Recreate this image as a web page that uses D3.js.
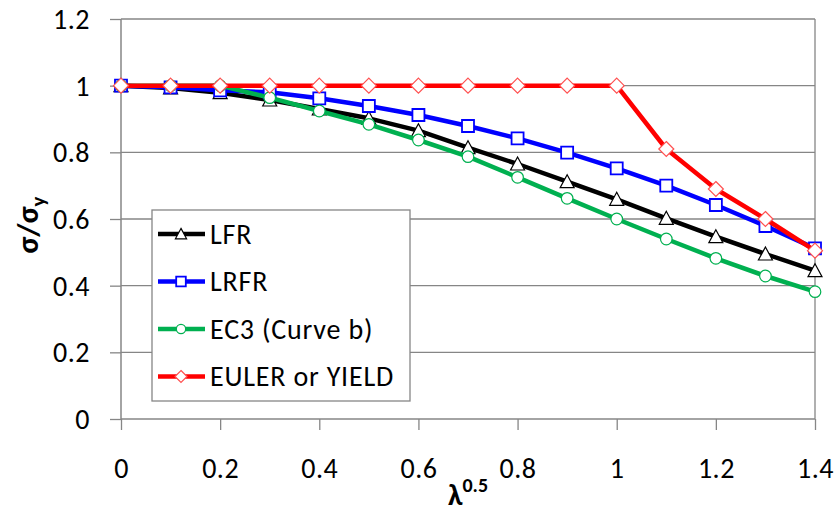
<!DOCTYPE html>
<html>
<head>
<meta charset="utf-8">
<script src="https://cdn.jsdelivr.net/npm/d3@7"></script>
<style>
  body { margin: 0; background: #fff; }
  text { font-family: Calibri, Carlito, "Open Sans", "Liberation Sans", sans-serif; }
</style>
</head>
<body>
<div id="chart"></div>
<script>
var xValues = [0, 0.1, 0.2, 0.3, 0.4, 0.5, 0.6, 0.7, 0.8, 0.9, 1.0, 1.1, 1.2, 1.3, 1.4];
var lfr   = [1, 0.993, 0.979, 0.957, 0.93, 0.902, 0.865, 0.814, 0.765, 0.712, 0.659, 0.602, 0.547, 0.495, 0.445];
var lrfr  = [1, 0.995, 0.986, 0.98, 0.962, 0.939, 0.912, 0.879, 0.842, 0.799, 0.752, 0.70, 0.642, 0.579, 0.512];
var ec3   = [1, 1, 1, 0.964, 0.924, 0.884, 0.837, 0.787, 0.725, 0.662, 0.60, 0.54, 0.482, 0.429, 0.382];
var euler = [1, 1, 1, 1, 1, 1, 1, 1, 1, 1, 1, 0.81, 0.69, 0.60, 0.505];
var seriesNames = ["LFR", "LRFR", "EC3 (Curve b)", "EULER or YIELD"];
var xTicks = [0, 0.2, 0.4, 0.6, 0.8, 1, 1.2, 1.4];
var yTicks = [0, 0.2, 0.4, 0.6, 0.8, 1, 1.2];

var series = [
  { name: seriesNames[0], values: lfr,   color: "#000000", marker: "triangle", mstroke: "#000000" },
  { name: seriesNames[1], values: lrfr,  color: "#0000ff", marker: "square",   mstroke: "#0000ff" },
  { name: seriesNames[2], values: ec3,   color: "#00b050", marker: "circle",   mstroke: "#00b050" },
  { name: seriesNames[3], values: euler, color: "#ff0000", marker: "diamond",  mstroke: "#ff5050" }
];

var W = 836, H = 514;
var svg = d3.select("#chart").append("svg").attr("width", W).attr("height", H);

var x = d3.scaleLinear().domain([0, 1.4]).range([121, 815]);
var y = d3.scaleLinear().domain([0, 1.2]).range([419, 19]);
var grid = "#868686";
var fmt = function (d) { return String(+d.toFixed(1)); };

// gridlines
svg.append("g").selectAll("line").data(yTicks.filter(function (d) { return d > 0; }))
  .enter().append("line")
  .attr("x1", x(0)).attr("x2", x(1.4))
  .attr("y1", function (d) { return y(d); }).attr("y2", function (d) { return y(d); })
  .attr("stroke", grid).attr("stroke-width", 1.3);

// right border
svg.append("line").attr("x1", x(1.4)).attr("x2", x(1.4)).attr("y1", y(1.2)).attr("y2", y(0))
  .attr("stroke", grid).attr("stroke-width", 1.3);

// axes
var yAxis = d3.axisLeft(y).tickValues(yTicks).tickSize(11).tickPadding(20).tickFormat(fmt);
var gy = svg.append("g").attr("transform", "translate(" + x(0) + ",0)").call(yAxis);
var xAxis = d3.axisBottom(x).tickValues(xTicks).tickSize(11).tickFormat(fmt);
var gx = svg.append("g").attr("transform", "translate(0," + y(0) + ")").call(xAxis);
[gx, gy].forEach(function (g) {
  g.select(".domain").attr("stroke", grid).attr("stroke-width", 1.5);
  g.selectAll(".tick line").attr("stroke", grid).attr("stroke-width", 1.3);
  g.selectAll(".tick text").attr("font-size", 28).attr("fill", "#000")
    .attr("letter-spacing", 0.5)
    .style("font-family", "Calibri, Carlito, 'Open Sans', sans-serif");
});
gx.selectAll(".tick text").attr("y", 59).attr("dy", null);
gy.selectAll(".tick text").attr("dy", "0.34em");
gx.select(".domain").attr("d", "M" + x(0) + ",0H" + x(1.4));
gy.select(".domain").attr("d", "M0," + y(0) + "V" + y(1.2));

// marker shapes
function markerPath(type, k) {
  if (type === "triangle") return "M0," + (-7 * k) + "L" + (7 * k) + "," + (6 * k) + "L" + (-7 * k) + "," + (6 * k) + "Z";
  if (type === "square") return "M" + (-6 * k) + "," + (-6 * k) + "H" + (6 * k) + "V" + (6 * k) + "H" + (-6 * k) + "Z";
  if (type === "diamond") return "M0," + (-7.5 * k) + "L" + (7.5 * k) + ",0L0," + (7.5 * k) + "L" + (-7.5 * k) + ",0Z";
  return null;
}
function drawMarker(g, type, stroke, k) {
  if (type === "circle") {
    return g.append("circle").attr("r", 5.8 * k).attr("fill", "#fff").attr("stroke", stroke).attr("stroke-width", 1.2);
  }
  return g.append("path").attr("d", markerPath(type, k)).attr("fill", "#fff")
    .attr("stroke", stroke).attr("stroke-width", type === "square" ? 1.8 : 1.2);
}

var line = d3.line().x(function (d) { return x(d[0]); }).y(function (d) { return y(d[1]); });

series.forEach(function (s) {
  var pts = xValues.map(function (v, i) { return [v, s.values[i]]; });
  var g = svg.append("g");
  g.append("path").datum(pts).attr("d", line).attr("fill", "none")
    .attr("stroke", s.color).attr("stroke-width", 4.5).attr("stroke-linejoin", "round");
  pts.forEach(function (p) {
    var m = g.append("g").attr("transform", "translate(" + x(p[0]) + "," + y(p[1]) + ")");
    drawMarker(m, s.marker, s.mstroke, 1);
  });
});

// legend
var lg = svg.append("g");
lg.append("rect").attr("x", 152).attr("y", 210).attr("width", 258).attr("height", 191)
  .attr("fill", "#fff").attr("stroke", grid).attr("stroke-width", 1.3);
series.forEach(function (s, i) {
  var cy = 234 + i * 47.5;
  lg.append("line").attr("x1", 158).attr("x2", 205).attr("y1", cy).attr("y2", cy)
    .attr("stroke", s.color).attr("stroke-width", 4.5);
  var m = lg.append("g").attr("transform", "translate(181," + cy + ")");
  drawMarker(m, s.marker, s.mstroke, 0.8);
  lg.append("text").attr("x", 210).attr("y", cy + 9.5).attr("font-size", 28)
    .attr("letter-spacing", 0.8).text(s.name);
});

// axis titles
var yt = svg.append("text").attr("transform", "translate(38,225) rotate(-90)")
  .attr("text-anchor", "middle").attr("font-size", 31).attr("font-weight", "bold");
yt.append("tspan").text("σ/σ");
yt.append("tspan").attr("font-size", 21).attr("dy", 7).text("y");

var xt = svg.append("text").attr("x", 468).attr("y", 505)
  .attr("text-anchor", "middle").attr("font-weight", "bold").attr("font-size", 30);
xt.append("tspan").text("λ");
xt.append("tspan").attr("font-size", 20).attr("dy", -13).text("0.5");
</script>
</body>
</html>
